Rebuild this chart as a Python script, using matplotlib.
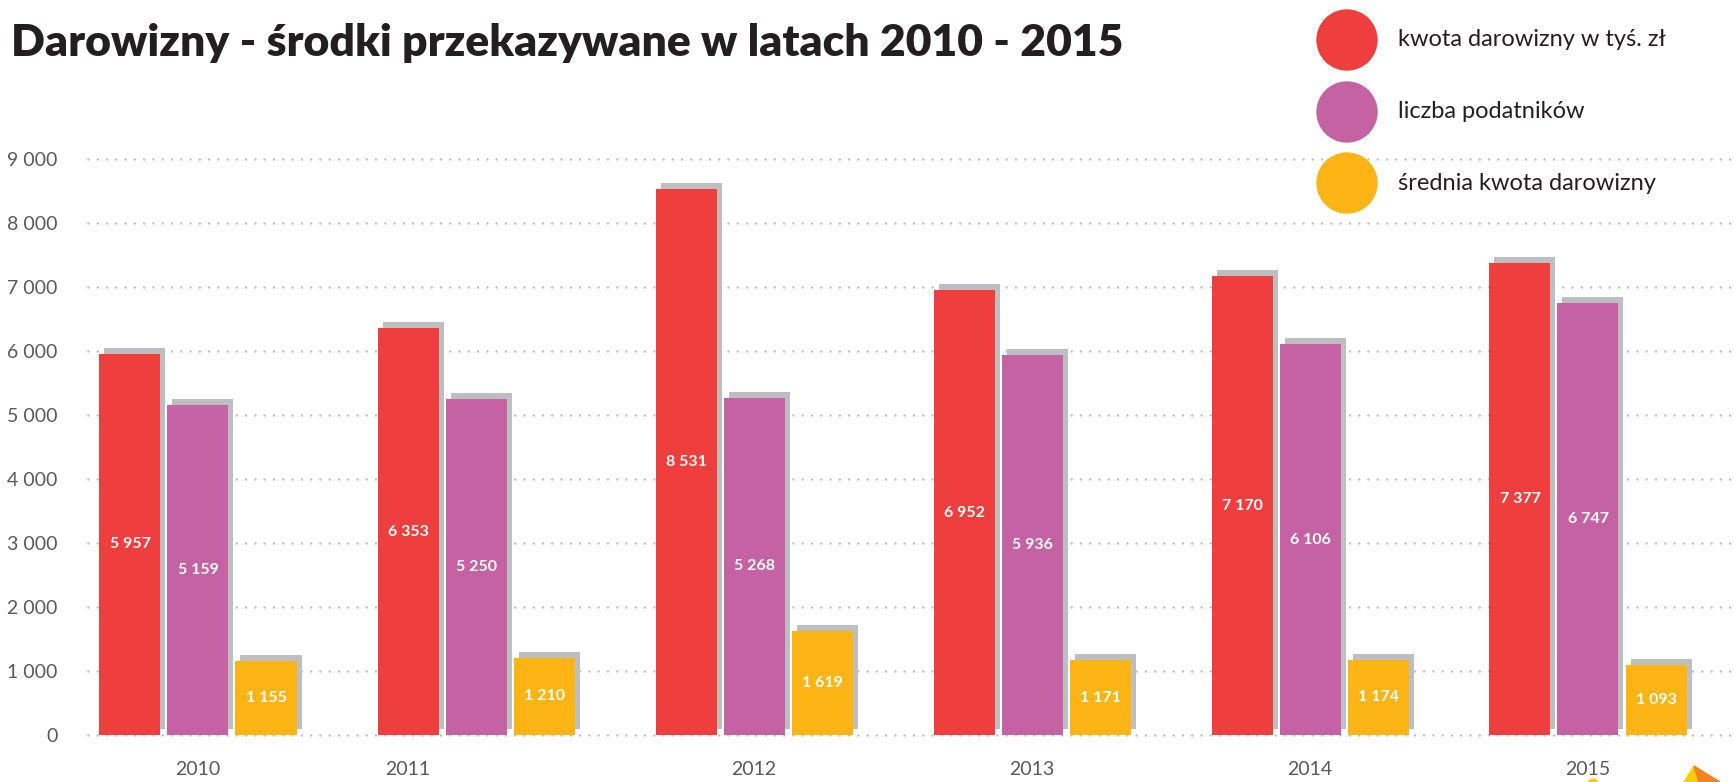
import matplotlib
matplotlib.use("Agg")
import matplotlib.pyplot as plt
import matplotlib.transforms as mtransforms
from matplotlib.patches import Circle, Polygon
import numpy as np

# ---- data ----
years = ["2010", "2011", "2012", "2013", "2014", "2015"]
kwota = [5957, 6353, 8531, 6952, 7170, 7377]
podatnicy = [5159, 5250, 5268, 5936, 6106, 6747]
srednia = [1155, 1210, 1619, 1171, 1174, 1093]
series_names = ["kwota darowizny w tyś. zł", "liczba podatników", "średnia kwota darowizny"]
yticks = [0, 1000, 2000, 3000, 4000, 5000, 6000, 7000, 8000, 9000]
title = "Darowizny - środki przekazywane w latach 2010 - 2015"

colors = ["#EE3E3E", "#C562A3", "#FDB515"]
shadow_c = "#BDBEC0"
text_c = "#58595B"
title_c = "#231F20"
FONT = "Lato"

W, H = 1734, 782
fig = plt.figure(figsize=(W / 100, H / 100), dpi=100)

# axes: x from 88px to W; y zero at 735px from top, 64 px per 1000
ax_left = 88 / W
ax_bottom = (H - 735) / H
ymax = 9300
ax_height = ymax * 0.064 / H
ax = fig.add_axes([ax_left, ax_bottom, 1 - ax_left, ax_height])

group_px = 278.0
bw = 61 / group_px
step = 68 / group_px
x0 = (88 - 198) / group_px
x1 = (W - 198) / group_px
ax.set_xlim(x0, x1)
ax.set_ylim(0, ymax)

x = np.arange(len(years))
shadow_tr = ax.transData + mtransforms.ScaledTranslation(5 / 100, 6 / 100, fig.dpi_scale_trans)

for i, (vals, c) in enumerate(zip([kwota, podatnicy, srednia], colors)):
    pos = x + (i - 1) * step
    ax.bar(pos, vals, width=bw, color=shadow_c, transform=shadow_tr, zorder=2, linewidth=0)
    ax.bar(pos, vals, width=bw, color=c, zorder=3, linewidth=0)
    for p, v in zip(pos, vals):
        s = f"{v:,}".replace(",", " ")
        ax.text(p, v / 2, s, ha="center", va="center", color="white",
                fontsize=11.5, fontweight="bold", family=FONT, zorder=4)

# dotted grid
for t in yticks:
    ax.axhline(t, color="#BCBDC0", lw=1.8, linestyle=(0, (0.01, 3.7)),
               dash_capstyle="round", zorder=1, clip_on=False)

ax.set_yticks(yticks)
ax.set_yticklabels([f"{t:,}".replace(",", " ") for t in yticks],
                   fontsize=14, color=text_c, family=FONT)
ax.tick_params(axis="y", length=0, pad=22)

# year labels (2011 label sits under its first bar in the original)
label_offsets = [0, -1, 0, 0, 0, 0]
ax.set_xticks(x + np.array(label_offsets) * step)
ax.set_xticklabels(years, fontsize=14, color=text_c, family=FONT)
ax.tick_params(axis="x", length=0, pad=19)

for s in ax.spines.values():
    s.set_visible(False)
ax.patch.set_alpha(0)

# title
fig.text(11 / W, 1 - 43 / H, title, ha="left", va="center", fontsize=32,
         fontweight="heavy", color=title_c, family=FONT)

# legend
leg_y = [40, 112, 183]
for name, c, yy in zip(series_names, colors, leg_y):
    circ = Circle((1347, H - yy), 30, transform=None, color=c, zorder=10)
    fig.patches.append(circ)
    fig.text(1398 / W, 1 - yy / H, name, ha="left", va="center", fontsize=17,
             color=title_c, family=FONT)

# decorative logo fragment bottom-right
fig.patches.append(Polygon([(1694, H - 766), (1684, 0), (1699, 0)], closed=True,
                           transform=None, color="#FFCB05", zorder=10))
fig.patches.append(Polygon([(1694, H - 766), (1699, 0), (1720, 0)], closed=True,
                           transform=None, color="#F58220", zorder=10))
fig.patches.append(Circle((1593, -2), 5, transform=None, color="#FFCB05", zorder=10))

fig.savefig("out.png", dpi=100)
